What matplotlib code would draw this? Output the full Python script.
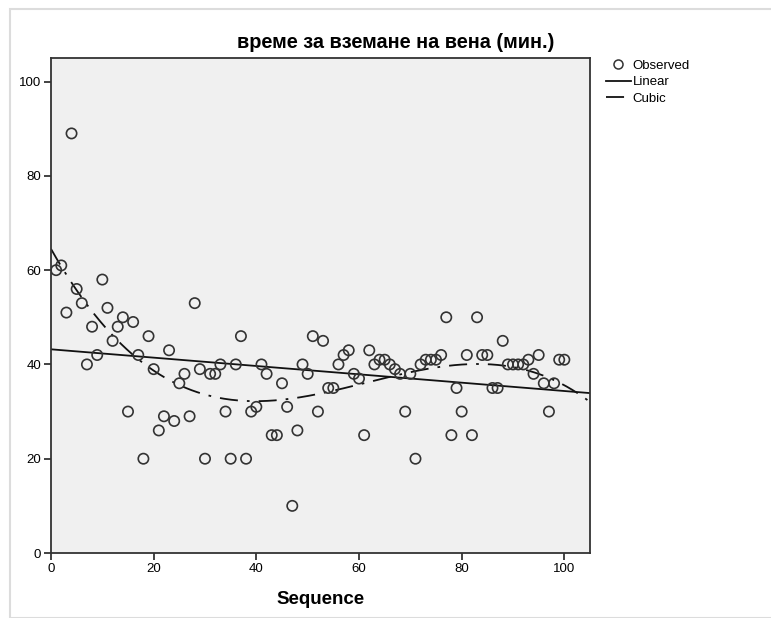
import matplotlib
matplotlib.use("Agg")
import matplotlib.pyplot as plt
import numpy as np
from matplotlib.lines import Line2D
from matplotlib.patches import Rectangle

plt.rcParams['font.family'] = ['Liberation Sans', 'DejaVu Sans']

# време за вземане на вена (мин.), по пореден номер 1..100
sequence = np.arange(1, 101)
minutes = [60, 61, 51, 89, 56, 53, 40, 48, 42, 58,
           52, 45, 48, 50, 30, 49, 42, 20, 46, 39,
           26, 29, 43, 28, 36, 38, 29, 53, 39, 20,
           38, 38, 40, 30, 20, 40, 46, 20, 30, 31,
           40, 38, 25, 25, 36, 31, 10, 26, 40, 38,
           46, 30, 45, 35, 35, 40, 42, 43, 38, 37,
           25, 43, 40, 41, 41, 40, 39, 38, 30, 38,
           20, 40, 41, 41, 41, 42, 50, 25, 35, 30,
           42, 25, 50, 42, 42, 35, 35, 45, 40, 40,
           40, 40, 41, 38, 42, 36, 30, 36, 41, 41]
x_ticks = [0, 20, 40, 60, 80, 100]
y_ticks = [0, 20, 40, 60, 80, 100]

minutes = np.array(minutes, dtype=float)
lin = np.polyfit(sequence, minutes, 1)
cub = np.polyfit(sequence, minutes, 3)
xs = np.linspace(0, 105, 300)
dash_dot = (10, 5, 1.5, 5)

fig = plt.figure(figsize=(7.71, 6.18), dpi=100)
ax = fig.add_axes([51 / 771, 1 - 553 / 618, (590 - 51) / 771, (553 - 58) / 618])
ax.set_facecolor('#f0f0f0')

ax.scatter(sequence, minutes, s=55, facecolors='none', edgecolors='#333333', linewidths=1.2, zorder=3)
ax.plot(xs, np.polyval(lin, xs), color='#111111', lw=1.3, zorder=2)
ax.plot(xs, np.polyval(cub, xs), color='#111111', lw=1.3, dashes=dash_dot, zorder=2)

ax.set_xlim(0, 105)
ax.set_ylim(0, 105)
ax.set_xticks(x_ticks)
ax.set_yticks(y_ticks)
ax.tick_params(direction='out', length=5, width=1.2, labelsize=9.5, color='#222222', pad=2)
for s in ax.spines.values():
    s.set_color('#333333')
    s.set_linewidth(1.3)

ax.set_xlabel('Sequence', fontsize=13.5, fontweight='bold', labelpad=12)
fig.text(396 / 771, 1 - 43 / 618, 'време за вземане на вена (мин.)', ha='center', va='center',
         fontsize=14.3, fontweight='bold')

handles = [Line2D([], [], marker='o', ls='none', mfc='none', mec='#333333', ms=6.5, mew=1.1),
           Line2D([], [], color='#111111', lw=1.3),
           Line2D([], [], color='#111111', lw=1.3, dashes=dash_dot)]
fig.legend(handles, ['Observed', 'Linear', 'Cubic'], loc='upper left',
           bbox_to_anchor=(599 / 771, 1 - 53 / 618), frameon=False,
           handlelength=1.9, handletextpad=0.15, labelspacing=0.32, borderpad=0,
           prop={'size': 9.5})

# light frame around the image
fig.add_artist(Rectangle((10 / 771, 0), 1, 1 - 9 / 618, transform=fig.transFigure,
                         fill=False, edgecolor='#dcdcdc', lw=1.5))

fig.savefig('out.png', dpi=100)
